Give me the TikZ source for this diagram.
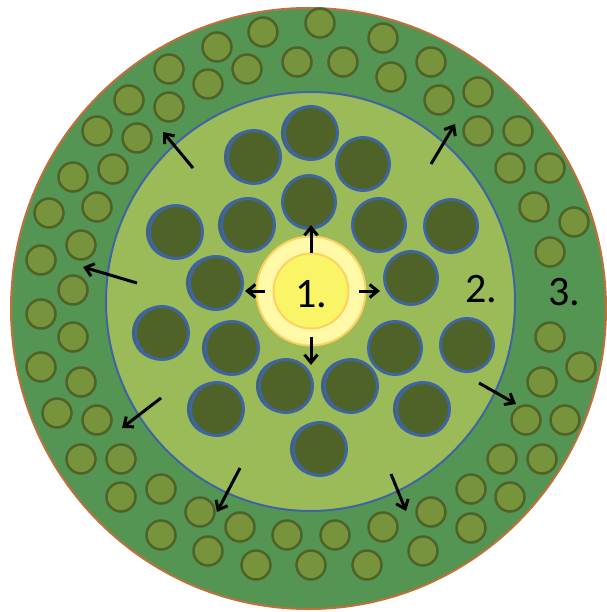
\documentclass[tikz,border=0pt]{standalone}
\usepackage{fontspec}
\setmainfont{Carlito}
\usetikzlibrary{arrows.meta, shapes.geometric, shadows}

\definecolor{ringgreen}{HTML}{559553}
\definecolor{rimbrown}{HTML}{C0703A}
\definecolor{cellfill}{HTML}{77933C}
\definecolor{celledge}{HTML}{4F6228}
\definecolor{pithgreen}{HTML}{9BBB59}
\definecolor{bundleblue}{HTML}{3E64A2}
\definecolor{coreyellow}{HTML}{FAF566}
\definecolor{haloyellow}{HTML}{FFF9A8}
\definecolor{haloedge}{HTML}{FFD15E}

\begin{document}
\begin{tikzpicture}[
    x=1pt, y=-1pt,
    font=\fontsize{42}{44}\selectfont,
    layer/.style={ellipse, inner sep=0pt, line width=2pt},
    outercell/.style={circle, draw=celledge, fill=cellfill, line width=2.5pt, minimum size=29pt, inner sep=0pt},
    bundle/.style={circle, draw=bundleblue, fill=celledge, line width=3pt, minimum size=53pt, inner sep=0pt},
    dbundle/.style={bundle, copy shadow={shadow xshift=-3pt, shadow yshift=0pt, line width=1.2pt}},
    arrow/.style={-{Straight Barb[length=8pt, width=13pt, line width=3pt]}, line width=3pt, draw=black},
]
\useasboundingbox (0,0) rectangle (606,612);

% Outer ring
\node[layer, draw=rimbrown, fill=ringgreen, minimum width=595pt, minimum height=601pt] (rind) at (308.5,308.5) {};

% Outer cells
\node[outercell] (c1) at (263,32) {};
\node[outercell] (c2) at (217,47) {};
\node[outercell] (c3) at (247,69) {};
\node[outercell] (c4) at (169,69) {};
\node[outercell] (c5) at (208,84) {};
\node[outercell] (c6) at (129,100) {};
\node[outercell] (c7) at (169,107) {};
\node[outercell] (c8) at (97,131) {};
\node[outercell] (c9) at (137,138) {};
\node[outercell] (c10) at (73,177) {};
\node[outercell] (c11) at (113,169) {};
\node[outercell] (c12) at (49,213) {};
\node[outercell] (c13) at (97,207) {};
\node[outercell] (c14) at (41,260) {};
\node[outercell] (c15) at (81,245) {};
\node[outercell] (c16) at (73,290) {};
\node[outercell] (c17) at (297,62) {};
\node[outercell] (c18) at (320,23) {};
\node[outercell] (c19) at (383,38) {};
\node[outercell] (c20) at (343,62) {};
\node[outercell] (c21) at (431,62) {};
\node[outercell] (c22) at (391,77) {};
\node[outercell] (c23) at (478,92) {};
\node[outercell] (c24) at (439,100) {};
\node[outercell] (c25) at (478,131) {};
\node[outercell] (c26) at (518,131) {};
\node[outercell] (c27) at (510,168) {};
\node[outercell] (c28) at (550,168) {};
\node[outercell] (c29) at (534,207) {};
\node[outercell] (c30) at (574,222) {};
\node[outercell] (c31) at (550,252) {};
\node[outercell] (c32) at (41,314) {};
\node[outercell] (c33) at (73,337) {};
\node[outercell] (c34) at (41,367) {};
\node[outercell] (c35) at (81,382) {};
\node[outercell] (c36) at (57,413) {};
\node[outercell] (c37) at (97,420) {};
\node[outercell] (c38) at (81,459) {};
\node[outercell] (c39) at (121,459) {};
\node[outercell] (c40) at (121,497) {};
\node[outercell] (c41) at (161,489) {};
\node[outercell] (c42) at (161,535) {};
\node[outercell] (c43) at (200,512) {};
\node[outercell] (c44) at (208,551) {};
\node[outercell] (c45) at (240,527) {};
\node[outercell] (c46) at (256,565) {};
\node[outercell] (c47) at (287,535) {};
\node[outercell] (c48) at (550,337) {};
\node[outercell] (c49) at (581,367) {};
\node[outercell] (c50) at (542,382) {};
\node[outercell] (c51) at (526,420) {};
\node[outercell] (c52) at (565,420) {};
\node[outercell] (c53) at (502,459) {};
\node[outercell] (c54) at (542,459) {};
\node[outercell] (c55) at (471,489) {};
\node[outercell] (c56) at (510,497) {};
\node[outercell] (c57) at (431,512) {};
\node[outercell] (c58) at (471,528) {};
\node[outercell] (c59) at (383,527) {};
\node[outercell] (c60) at (423,551) {};
\node[outercell] (c61) at (335,535) {};
\node[outercell] (c62) at (367,565) {};
\node[outercell] (c63) at (311,565) {};

% Middle layer
\node[layer, draw=bundleblue, fill=pithgreen, minimum width=409pt, minimum height=419pt] (pith) at (310.5,301.5) {};

% Bundles
\node[dbundle] (b1) at (311,133) {};
\node[dbundle] (b2) at (254,157) {};
\node[bundle] (b3) at (363,164) {};
\node[bundle] (b4) at (309,202) {};
\node[dbundle] (b5) at (176,232) {};
\node[dbundle] (b6) at (248,225) {};
\node[bundle] (b7) at (379,225) {};
\node[bundle] (b8) at (451,226) {};
\node[dbundle] (b9) at (216,283) {};
\node[bundle] (b10) at (411,278) {};
\node[dbundle] (b11) at (162,333) {};
\node[dbundle] (b12) at (232,348) {};
\node[bundle] (b13) at (395,348) {};
\node[bundle] (b14) at (467,345) {};
\node[dbundle] (b15) at (286,386) {};
\node[dbundle] (b16) at (351,386) {};
\node[dbundle] (b17) at (217,409) {};
\node[dbundle] (b18) at (423,409) {};
\node[dbundle] (b19) at (320,449) {};

% Core
\node[circle, inner sep=0pt, line width=2pt, draw=haloedge, fill=haloyellow, minimum size=109pt] (halo) at (311,291) {};
\node[circle, inner sep=0pt, line width=2pt, draw=haloedge, fill=coreyellow, minimum size=75pt] (core) at (311,291) {};

% Arrow ends
\coordinate (up0) at (311,253);
\coordinate (up1) at (311,225);
\coordinate (lt0) at (265,291);
\coordinate (lt1) at (245,291);
\coordinate (rt0) at (359,291);
\coordinate (rt1) at (380,291);
\coordinate (dn0) at (311,337);
\coordinate (dn1) at (311,365);
\coordinate (nw0) at (193,168);
\coordinate (nw1) at (163,132);
\coordinate (w0) at (137,283);
\coordinate (w1) at (83,267);
\coordinate (ne0) at (431,164);
\coordinate (ne1) at (455,124);
\coordinate (sw0) at (161,398);
\coordinate (sw1) at (122,428);
\coordinate (ssw0) at (240,468);
\coordinate (ssw1) at (217,512);
\coordinate (se0) at (479,383);
\coordinate (se1) at (516,404);
\coordinate (sse0) at (391,474);
\coordinate (sse1) at (406,511);

% Arrows
\draw[arrow] (up0) -- (up1);
\draw[arrow] (lt0) -- (lt1);
\draw[arrow] (rt0) -- (rt1);
\draw[arrow] (dn0) -- (dn1);
\draw[arrow] (nw0) -- (nw1);
\draw[arrow] (w0) -- (w1);
\draw[arrow] (ne0) -- (ne1);
\draw[arrow] (sw0) -- (sw1);
\draw[arrow] (ssw0) -- (ssw1);
\draw[arrow] (se0) -- (se1);
\draw[arrow] (sse0) -- (sse1);

% Labels
\node[inner sep=0pt] (l1) at (311,294) {1.};
\node[inner sep=0pt] (l2) at (481,289) {2.};
\node[inner sep=0pt] (l3) at (564,292) {3.};

\end{tikzpicture}
\end{document}
